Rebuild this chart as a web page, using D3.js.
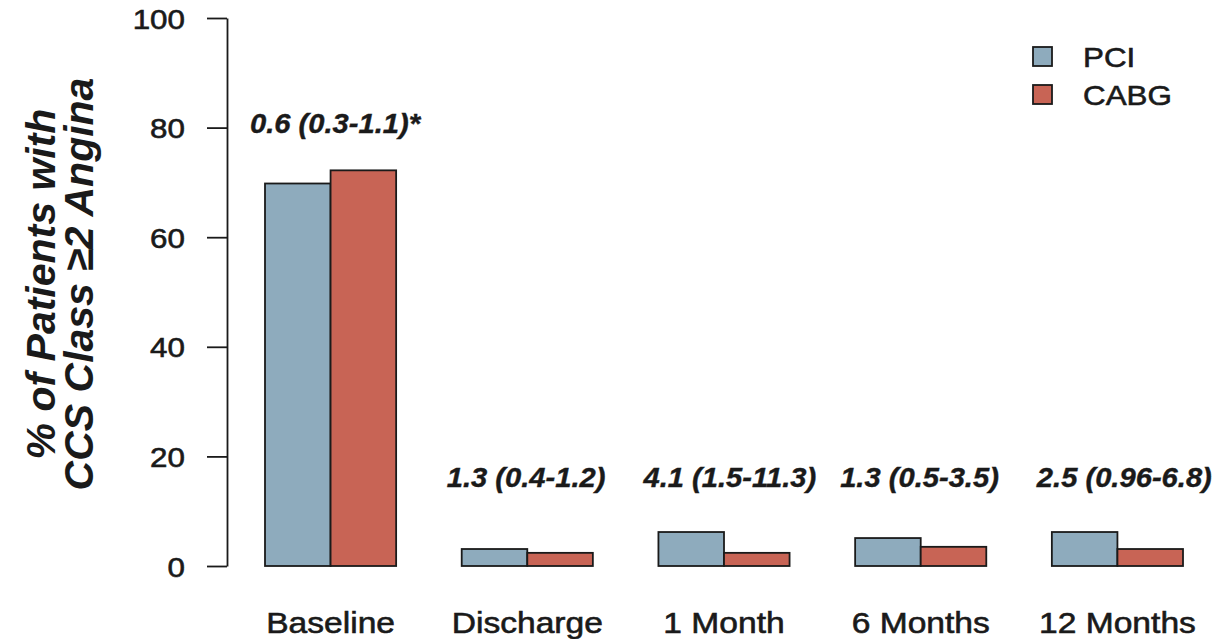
<!DOCTYPE html>
<html>
<head>
<meta charset="utf-8">
<script src="https://cdn.jsdelivr.net/npm/d3@7"></script>
<style>
  html, body { margin: 0; padding: 0; background: #ffffff; }
  svg { display: block; }
  text { font-family: "Liberation Sans", Arial, sans-serif; fill: #1a1a1a; }
</style>
</head>
<body>
<svg id="chart" width="1212" height="639"></svg>
<script>
// ---- data ----
const categories = ["Baseline", "Discharge", "1 Month", "6 Months", "12 Months"];
const seriesNames = ["PCI", "CABG"];
const pciValues  = [69.8, 3.1, 6.2, 5.1, 6.2];
const cabgValues = [72.2, 2.4, 2.4, 3.5, 3.1];
const annotations = ["0.6 (0.3-1.1)*", "1.3 (0.4-1.2)", "4.1 (1.5-11.3)", "1.3 (0.5-3.5)", "2.5 (0.96-6.8)"];
const yTicks = [0, 20, 40, 60, 80, 100];
const yTitleLines = ["% of Patients with", "CCS Class \u22652 Angina"];
const colors = ["#8eabbd", "#c86455"];

// ---- layout ----
const SX = 1.12; // horizontal stretch of the original rendering
const svg = d3.select("#chart");
const axisX = 227;
const y = d3.scaleLinear().domain([0, 100]).range([566, 18]);
const x0 = d3.scaleBand().domain(categories).range([265, 1183]).paddingInner(1/3).paddingOuter(0);
const x1 = d3.scaleBand().domain(seriesNames).range([0, x0.bandwidth()]).padding(0);

const rows = categories.map((c, i) => ({ cat: c, vals: [pciValues[i], cabgValues[i]], note: annotations[i] }));

// bars
const groups = svg.append("g").selectAll("g").data(rows).join("g")
  .attr("transform", d => `translate(${x0(d.cat)},0)`);
groups.selectAll("rect")
  .data(d => d.vals.map((v, j) => ({ name: seriesNames[j], v, j })))
  .join("rect")
  .attr("x", d => x1(d.name))
  .attr("y", d => y(d.v))
  .attr("width", x1.bandwidth())
  .attr("height", d => y(0) - y(d.v))
  .attr("fill", d => colors[d.j])
  .attr("stroke", "#1a1a1a")
  .attr("stroke-width", 1.8);

// y axis
const yAxis = d3.axisLeft(y).tickValues(yTicks).tickSize(20).tickPadding(0).tickSizeOuter(0);
const gy = svg.append("g").attr("transform", `translate(${axisX},0)`).call(yAxis);
gy.select(".domain").attr("stroke", "#1a1a1a").attr("stroke-width", 1.8);
gy.selectAll(".tick line").attr("stroke", "#1a1a1a").attr("stroke-width", 1.8);
gy.selectAll(".tick text")
  .attr("font-size", 28)
  .attr("font-family", "Liberation Sans, Arial, sans-serif")
  .attr("fill", "#1a1a1a")
  .attr("stroke", "#1a1a1a")
  .attr("stroke-width", 0.6)
  .attr("x", -42 / SX)
  .attr("dy", "0.36em")
  .attr("transform", `scale(${SX},1)`);

// helper for stretched text
function stretchedText(parent, tx, ty, str, opts) {
  const g = parent.append("g").attr("transform", `translate(${tx},${ty}) scale(${opts.sx || SX},1)`);
  const t = g.append("text").text(str)
    .attr("font-size", opts.size)
    .attr("text-anchor", opts.anchor || "middle");
  if (opts.bold) t.attr("font-weight", "bold");
  if (opts.italic) t.attr("font-style", "italic");
  if (opts.heavy) t.attr("stroke", "#1a1a1a").attr("stroke-width", opts.heavy);
  return t;
}

// category labels
rows.forEach(d => {
  stretchedText(svg, x0(d.cat) + x0.bandwidth() / 2, 633, d.cat, { size: 30, heavy: 0.6 });
});

// annotations
rows.forEach(d => {
  const top = Math.max(14.4, d3.max(d.vals) + 6.8);
  stretchedText(svg, x0(d.cat) - 15, y(top), d.note, { size: 27.5, sx: 1.06, bold: true, italic: true, anchor: "start", heavy: 0.4 });
});

// legend
const legend = svg.append("g");
seriesNames.forEach((n, j) => {
  const ly = 47 + j * 38;
  legend.append("rect").attr("x", 1033).attr("y", ly).attr("width", 19).attr("height", 19)
    .attr("fill", colors[j]).attr("stroke", "#1a1a1a").attr("stroke-width", 1.8);
  stretchedText(legend, 1083, ly + 20, n, { size: 28, anchor: "start", heavy: 0.6 });
});

// y title (two lines, rotated)
const yt = svg.append("g").attr("transform", "translate(0,284) rotate(-90)");
yTitleLines.forEach((line, i) => {
  yt.append("text").text(line)
    .attr("x", 0)
    .attr("y", 55 + i * 38)
    .attr("text-anchor", "middle")
    .attr("font-size", 41)
    .attr("font-weight", "bold")
    .attr("font-style", "italic");
});
</script>
</body>
</html>
